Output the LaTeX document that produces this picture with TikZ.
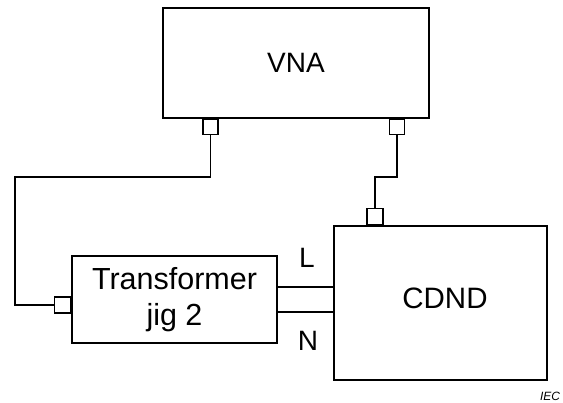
\documentclass[tikz,border=0pt]{standalone}
\usepackage{fontspec}
\setmainfont{Liberation Sans}
\usetikzlibrary{positioning}

\begin{document}
\begin{tikzpicture}[x=1pt,y=-1pt,line width=1.6pt,
    box/.style={draw,rectangle,align=center,inner sep=0pt,
      font=\fontsize{28}{36}\selectfont},
    port/.style={draw,rectangle,inner sep=0pt,minimum size=15pt,line width=1.5pt},
    lab/.style={font=\fontsize{28}{32}\selectfont}]
        \useasboundingbox (0,0) rectangle (563,403);

        % Geraete
        \node[box,minimum width=266pt,minimum height=110pt] (vna) at (296,63) {VNA};
        \node[box,minimum width=205pt,minimum height=87pt,
          font=\fontsize{30.5}{36}\selectfont] (jig) at (174.5,299.5) {Transformer\\jig 2};
        \node[box,minimum width=213pt,minimum height=154pt] (cdnd) at (440.5,303) {};
        \node[lab,font=\fontsize{29.5}{32}\selectfont] (cdndtxt) at (445,298) {CDND};

        % Anschluesse
        \node[port,anchor=north] (pa) at (vna.south -| 210.5,0) {};
        \node[port,anchor=north] (pb) at (vna.south -| 397,0) {};
        \node[port,anchor=south,minimum size=16pt] (pc) at (cdnd.north -| 375,0) {};
        \node[port,anchor=east,minimum size=16pt] (pd) at (jig.west |- 0,305) {};

        \coordinate (ka) at (15,177);
        \coordinate (kb) at (375,177);

        % Leitungen
        \draw (pa.south) |- (ka) |- (pd.west);
        \draw (pb.south) |- (kb) -- (pc.north);
        \draw (jig.east |- 0,287) -- (cdnd.west |- 0,287);
        \draw (jig.east |- 0,312) -- (cdnd.west |- 0,312);

        \node[lab] (lbl) at (307,258) {L};
        \node[lab] (nbl) at (308,341) {N};
        \node[font=\fontsize{12}{14}\itshape] (iec) at (550,396) {IEC};
    \end{tikzpicture}
\end{document}
